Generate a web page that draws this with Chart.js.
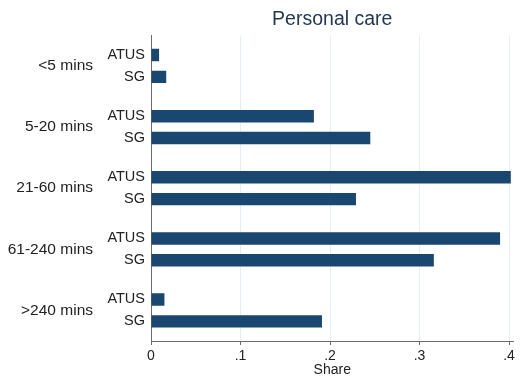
<!DOCTYPE html>
<html>
<head>
<meta charset="utf-8">
<script src="https://cdn.jsdelivr.net/npm/chart.js@4"></script>
<style>
  body { margin: 0; background: #fff; }
  canvas { display: block; }
</style>
</head>
<body>
<canvas id="myGraph" width="523" height="381"></canvas>
<script>
(() => {

//----- Data -----//

    var groups = ['<5 mins', '5-20 mins', '21-60 mins', '61-240 mins', '>240 mins']
    var seriesNames = ['ATUS', 'SG']
    var atusShare = [0.009, 0.182, 0.402, 0.390, 0.015]
    var sgShare = [0.017, 0.245, 0.229, 0.316, 0.191]
    var xTicks = [0, 0.1, 0.2, 0.3, 0.4]

//----- Styles -----//

    var barColor = '#1a476f'
    var axisColor = '#6b6b6b'
    var gridColor = '#e6edf3'
    var font = 'Liberation Sans, Arial, sans-serif'

//----- construct chart -----//

    const data = {
      labels: groups,
      datasets: [
        { label: seriesNames[0], data: atusShare, backgroundColor: barColor, yAxisID: 'y' },
        { label: seriesNames[1], data: sgShare, backgroundColor: barColor, yAxisID: 'y' }
      ]
    }

    const myChart = new Chart(
      document.getElementById('myGraph'), {
        type: 'bar',
        data: data,
        options: {
          indexAxis: 'y',
          responsive: false,
          animation: false,
          categoryPercentage: 0.714,
          barPercentage: 0.57,
          layout: { padding: { left: 0, right: 9.5, top: 0, bottom: 0 } },
          plugins: {
            legend: { display: false },
            tooltip: { enabled: false },
            title: {
              display: true,
              text: 'Personal care',
              fullSize: false,
              color: '#243852',
              font: { family: font, size: 19.5, weight: 'normal' },
              padding: { top: 8, bottom: 4 }
            }
          },
          scales: {
            x: {
              min: 0,
              max: 0.405,
              afterBuildTicks: (scale) => { scale.ticks = xTicks.map(v => ({ value: v })) },
              ticks: {
                includeBounds: false,
                color: '#222',
                padding: 3,
                font: { family: font, size: 14 },
                callback: (v) => v === 0 ? '0' : v.toFixed(1).replace(/^0/, '')
              },
              grid: {
                color: (ctx) => ctx.tick && ctx.tick.value === 0 ? 'rgba(0,0,0,0)' : gridColor,
                tickColor: axisColor,
                tickLength: 4
              },
              border: { color: axisColor },
              title: {
                display: true,
                text: 'Share',
                color: '#222',
                font: { family: font, size: 14 },
                padding: { top: 0, bottom: 2 }
              },
              afterFit: (scale) => { scale.height = 40 }
            },
            y: {
              type: 'category',
              offset: true,
              weight: 0,
              grid: { display: false, drawTicks: false },
              border: { color: axisColor },
              ticks: {
                color: '#222',
                padding: 6,
                font: { family: font, size: 14.5, lineHeight: 22 / 14.5 },
                callback: () => seriesNames
              },
              afterFit: (scale) => { scale.width = 54 }
            },
            y2: {
              type: 'category',
              axis: 'y',
              position: 'left',
              labels: groups,
              offset: true,
              weight: 1,
              grid: { display: false, drawTicks: false },
              border: { display: false },
              ticks: {
                color: '#222',
                padding: 4,
                font: { family: font, size: 15.5 }
              },
              afterFit: (scale) => { scale.width = 97 }
            }
          }
        }
      }
    )

})();
</script>
</body>
</html>
